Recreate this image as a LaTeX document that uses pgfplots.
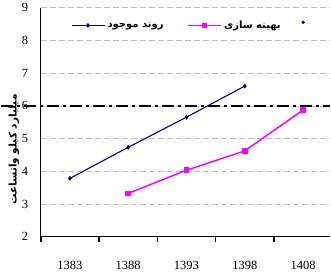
\documentclass[border=0pt]{standalone}
\usepackage{fontspec}
\setmainfont{Liberation Serif}
\newfontfamily\fa[Script=Arabic]{DejaVu Sans}
\TeXXeTstate=1
\usepackage{pgfplots}
\pgfplotsset{compat=1.18}
\definecolor{navyc}{RGB}{0,0,128}
\definecolor{magc}{RGB}{255,0,255}
\begin{document}
\begin{tikzpicture}
\begin{axis}[
  scale only axis, width=289pt, height=229pt,
  xmin=-0.5, xmax=4.46, ymin=2, ymax=9,
  axis lines=left, axis line style={-, black, line width=0.9pt},
  clip=false,
  xtick={0,...,4}, xticklabels={1383,1388,1393,1398,1408},
  major x tick style={draw=none},
  minor xtick={-0.5,0.5,1.5,2.5,3.5},
  minor x tick style={black, line width=1.6pt},
  minor tick length=5pt, major tick length=0pt,
  tick align=outside,
  xticklabel style={yshift=-21pt},
  ytick={2,...,9},
  ymajorgrids, grid style={gray!50, dashed, dash pattern=on 6pt off 3pt},
  yticklabel style={xshift=-9pt},
  /pgf/number format/assume math mode=true,
  tick label style={font=\fontsize{12.5}{14}\selectfont},
  ylabel={\fa\bfseries\beginR میلیارد کیلو واتساعت\endR},
  ylabel style={at={(axis description cs:-0.093,0.38)}, anchor=center, font=\fontsize{10.5}{12}\selectfont},
  legend style={draw=none, fill=none, at={(axis description cs:0.095,0.96)}, anchor=north west,
    legend columns=2, font=\fontsize{10}{12}\selectfont\fa\bfseries,
    /tikz/every even column/.append style={column sep=22pt}},
  legend image code/.code={\draw[mark repeat=2,mark phase=2,#1] plot coordinates {(0pt,0pt) (16pt,0pt) (33pt,0pt)};},
]
\addplot[navyc, line width=1.1pt, mark=diamond*, mark size=1.6pt] coordinates {(0,3.78) (1,4.73) (2,5.65) (3,6.6)};
\addlegendentry{\beginR روند موجود\endR}
\addplot[magc, line width=1.5pt, mark=square*, mark size=2pt] coordinates {(1,3.32) (2,4.03) (3,4.62) (4,5.87)};
\addlegendentry{\beginR بهینه سازی\endR}
\addplot[navyc, only marks, mark=*, mark size=1.5pt, forget plot] coordinates {(4,8.55)};
\addplot[black, line width=2.2pt, dash pattern=on 12pt off 4pt on 3pt off 4pt, forget plot] coordinates {(-1.18,6) (4.46,6)};
\end{axis}
\end{tikzpicture}
\end{document}
